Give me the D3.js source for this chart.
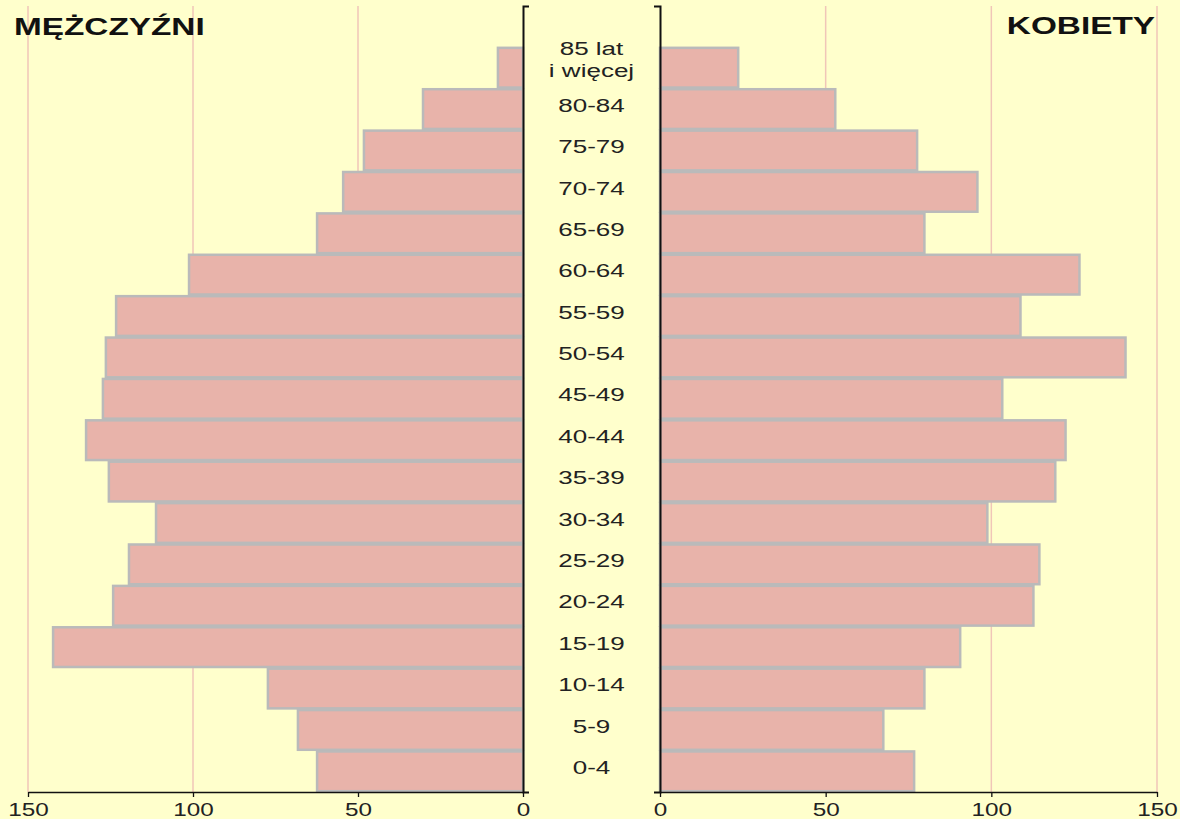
<!DOCTYPE html>
<html>
<head>
<meta charset="utf-8">
<script src="https://cdn.jsdelivr.net/npm/d3@7/dist/d3.min.js"></script>
<style>
  html, body { margin: 0; padding: 0; background: #ffffcc; }
  svg { display: block; }
  text { font-family: "Liberation Sans", Arial, sans-serif; }
</style>
</head>
<body>
<svg id="chart" width="1180" height="819"></svg>
<script>
// Age groups, top to bottom
const ageGroups = ["85 lat i więcej", "80-84", "75-79", "70-74", "65-69", "60-64", "55-59", "50-54",
  "45-49", "40-44", "35-39", "30-34", "25-29", "20-24", "15-19", "10-14", "5-9", "0-4"];
const men   = [7.6, 30.3, 48.2, 54.5, 62.4, 101.2, 123.3, 126.4, 127.3, 132.4, 125.5, 111.2, 119.4, 124.2, 142.4, 77.3, 68.2, 62.4];
const women = [23.6, 52.9, 77.6, 95.8, 79.8, 126.6, 108.8, 140.5, 103.3, 122.4, 119.3, 98.8, 114.5, 112.7, 90.6, 79.8, 67.4, 76.7];
const tickValues = [0, 50, 100, 150];
const titleMen = "MĘŻCZYŹNI";
const titleWomen = "KOBIETY";

const SX = 1.4; // horizontal stretch of the text in the reference
const svg = d3.select("#chart");
const W = 1180, H = 819;
svg.append("rect").attr("width", W).attr("height", H).attr("fill", "#ffffcc");

const plotTop = 6, plotBottom = 792;
const xL = d3.scaleLinear().domain([0, 150]).range([523, 28]);
const xR = d3.scaleLinear().domain([0, 150]).range([660, 1157]);
const y = d3.scaleBand().domain(ageGroups).range([47, plotBottom]).paddingInner(0.04).paddingOuter(0.02);

// gridlines
const gridColor = "#f0c6b8";
tickValues.filter(v => v > 0).forEach(v => {
  svg.append("line").attr("x1", xL(v)).attr("x2", xL(v)).attr("y1", plotTop).attr("y2", plotBottom)
    .attr("stroke", gridColor).attr("stroke-width", 1.5);
  svg.append("line").attr("x1", xR(v)).attr("x2", xR(v)).attr("y1", plotTop).attr("y2", plotBottom)
    .attr("stroke", gridColor).attr("stroke-width", 1.5);
});

const barFill = "#e8b3aa", barStroke = "#bababa";
// men bars
svg.append("g").selectAll("rect").data(ageGroups).join("rect")
  .attr("x", (d, i) => xL(men[i]))
  .attr("y", d => y(d))
  .attr("width", (d, i) => xL(0) - xL(men[i]))
  .attr("height", y.bandwidth())
  .attr("fill", barFill).attr("stroke", barStroke).attr("stroke-width", 2.5);
// women bars
svg.append("g").selectAll("rect").data(ageGroups).join("rect")
  .attr("x", xR(0))
  .attr("y", d => y(d))
  .attr("width", (d, i) => xR(women[i]) - xR(0))
  .attr("height", y.bandwidth())
  .attr("fill", barFill).attr("stroke", barStroke).attr("stroke-width", 2.5);

// x axes
function styleAxis(g, w) {
  g.selectAll("path, line").attr("stroke", "#111").attr("stroke-width", w || 1.3);
  g.selectAll("text").attr("font-size", 18).attr("fill", "#222")
    .attr("font-family", "'Liberation Sans', Arial, sans-serif")
    .attr("transform", `scale(${SX - 0.05},1)`);
}
svg.append("g").attr("transform", `translate(0,${plotBottom})`)
  .call(d3.axisBottom(xL).tickValues(tickValues).tickSize(5).tickSizeOuter(0).tickPadding(6))
  .call(g => styleAxis(g));
svg.append("g").attr("transform", `translate(0,${plotBottom})`)
  .call(d3.axisBottom(xR).tickValues(tickValues).tickSize(5).tickSizeOuter(0).tickPadding(6))
  .call(g => styleAxis(g));

// vertical axes
const yLin = d3.scaleLinear().domain([0, 1]).range([plotTop, plotBottom]);
svg.append("g").attr("transform", `translate(${xL(0)},0)`)
  .call(d3.axisRight(yLin).tickValues([]).tickSizeOuter(6)).call(g => styleAxis(g, 2));
svg.append("g").attr("transform", `translate(${xR(0)},0)`)
  .call(d3.axisLeft(yLin).tickValues([]).tickSizeOuter(6)).call(g => styleAxis(g, 2));

// age labels
const cx = (xL(0) + xR(0)) / 2;
const labels = svg.append("g").attr("font-size", 19).attr("fill", "#222").attr("text-anchor", "middle");
ageGroups.forEach((d, i) => {
  const cy = y(d) + y.bandwidth() / 2;
  if (i === 0) {
    const g = labels.append("g").attr("transform", `translate(${cx},${cy}) scale(${SX - 0.03},1)`);
    g.append("text").attr("x", 0).attr("y", -19).attr("dy", "0.35em").text("85 lat");
    g.append("text").attr("x", 0).attr("y", 3).attr("dy", "0.35em").text("i więcej");
  } else {
    labels.append("text").attr("transform", `translate(${cx},${cy - 4}) scale(${SX - 0.03},1)`)
      .attr("dy", "0.35em").text(d);
  }
});

// titles
svg.append("text").attr("transform", `translate(14,35) scale(${SX + 0.05},1)`)
  .attr("font-size", 23).attr("font-weight", "bold").attr("fill", "#111").text(titleMen);
svg.append("text").attr("transform", `translate(1155,34) scale(${SX + 0.05},1)`)
  .attr("font-size", 23).attr("font-weight", "bold").attr("fill", "#111")
  .attr("text-anchor", "end").text(titleWomen);
</script>
</body>
</html>
